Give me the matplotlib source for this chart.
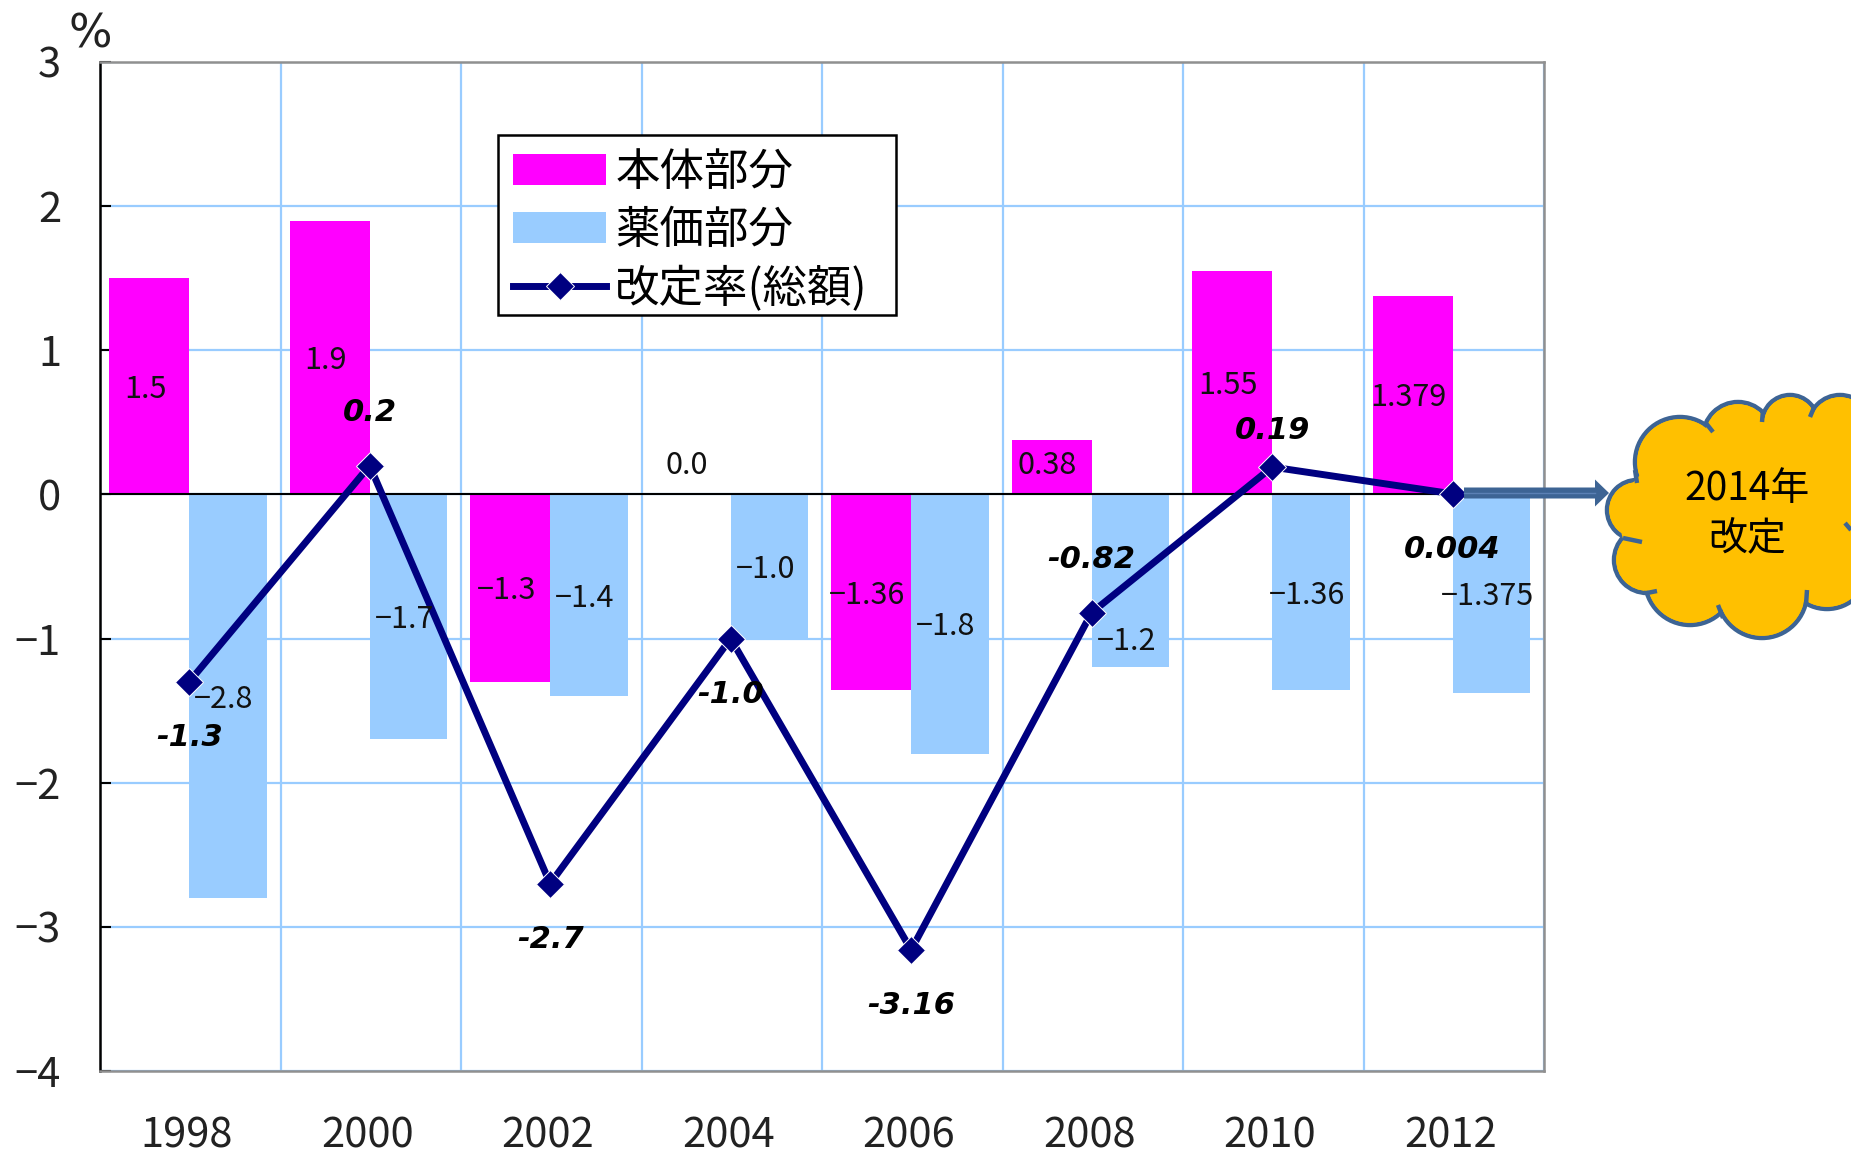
import matplotlib
matplotlib.use("Agg")
import matplotlib.pyplot as plt
from matplotlib.patches import Circle, Rectangle
import numpy as np

plt.rcParams['font.family'] = ['Noto Sans CJK JP', 'DejaVu Sans']

# DATA
years = ['1998', '2000', '2002', '2004', '2006', '2008', '2010', '2012']
honbody = [1.5, 1.9, -1.3, 0.0, -1.36, 0.38, 1.55, 1.379]
honbody_labels = ['1.5', '1.9', '-1.3', '0.0', '-1.36', '0.38', '1.55', '1.379']
drug = [-2.8, -1.7, -1.4, -1.0, -1.8, -1.2, -1.36, -1.375]
drug_labels = ['-2.8', '-1.7', '-1.4', '-1.0', '-1.8', '-1.2', '-1.36', '-1.375']
total = [-1.3, 0.2, -2.7, -1.0, -3.16, -0.82, 0.19, 0.004]
total_labels = ['-1.3', '0.2', '-2.7', '-1.0', '-3.16', '-0.82', '0.19', '0.004']
total_above = [False, True, False, False, False, True, True, False]
y_ticks = [-4, -3, -2, -1, 0, 1, 2, 3]

W, H = 1851, 1153
NAVY = '#000080'
GRID = '#99ccff'
MAGENTA = '#ff00ff'
CLOUD_EDGE = '#3d6494'

figure = plt.figure(figsize=(W / 100, H / 100), dpi=100)
ax = figure.add_axes([100 / W, 1 - 1071 / H, 1444 / W, 1009 / H])

x = np.arange(len(years)) + 0.494
bar_w = 0.43
bar_w_m = 0.442

b1 = ax.bar(x - bar_w_m / 2, honbody, bar_w_m, color=MAGENTA, zorder=2, label='本体部分')
b2 = ax.bar(x + bar_w / 2, drug, bar_w, color=GRID, zorder=2, label='薬価部分')
ax.axhline(0, color='black', lw=1.5, zorder=3)
l1, = ax.plot(x, total, color=NAVY, lw=5, marker='D', ms=14.5, mec='white', mew=0.7, zorder=4,
              label='改定率(総額)')

ax.set_xlim(0, len(years))
ax.set_ylim(-4, 3)
ax.set_xticks(x - 0.012, labels=years)
ax.set_yticks(y_ticks, labels=[str(v).replace('-', '−') for v in y_ticks])
ax.set_xticks(np.arange(len(years) + 1), minor=True)
ax.grid(True, which='minor', axis='x', color=GRID, lw=1.6, zorder=0)
ax.grid(True, which='major', axis='y', color=GRID, lw=1.6, zorder=0)
ax.tick_params(axis='x', which='both', length=0)
ax.tick_params(axis='x', which='major', labelsize=30, pad=32, labelcolor='#222222')
ax.tick_params(axis='y', direction='in', length=8, width=1.5, labelsize=30, pad=28, labelcolor='#222222')
ax.spines['left'].set_linewidth(1.8)
for side in ['top', 'right', 'bottom']:
    ax.spines[side].set_color('#909090')
    ax.spines[side].set_linewidth(1.8)

# value labels
label_off = (-3, -2)
for xi, v, s in zip(x - bar_w_m / 2, honbody, honbody_labels):
    ypos = v / 2 if v != 0 else 0.22
    if s == '0.38':
        ypos = 0.22
    ax.annotate(s.replace('-', '−'), (xi, ypos), xytext=label_off, textcoords='offset points',
                ha='center', va='center', fontsize=22, color='#111111', zorder=5)
for xi, v, s in zip(x + bar_w / 2, drug, drug_labels):
    ypos = v / 2
    if s == '-1.2':
        ypos = -1.0  # sits under the marker in the reference
    ax.annotate(s.replace('-', '−'), (xi, ypos), xytext=label_off, textcoords='offset points',
                ha='center', va='center', fontsize=22, color='#111111', zorder=5)
for xi, v, s, above in zip(x, total, total_labels, total_above):
    off = 38 if above else -40
    if s == '0.19':
        off = 26
    ax.annotate(s, (xi, v), xytext=(0, off), textcoords='offset points', ha='center', va='center',
                fontsize=22, fontweight='bold', fontstyle='italic', family='DejaVu Sans', color='black', zorder=6)

leg = ax.legend(handles=[b1, b2, l1], loc='upper left',
                bbox_to_anchor=((513 - 100) / 1444, 1 - (149 - 62) / 1009),
                fontsize=32, frameon=False, borderaxespad=0, borderpad=0, labelspacing=0.28,
                handlelength=2.1, handletextpad=0.2)
leg.set_zorder(7)
ax.add_patch(Rectangle((498 / W, 1 - 315 / H), 398 / W, 180 / H, transform=figure.transFigure,
                       facecolor='white', edgecolor='black', lw=1.8, zorder=6.5))

# overlay in pixel coords: percent sign, arrow, cloud
over = figure.add_axes([0, 0, 1, 1], facecolor='none')
over.set_xlim(0, W)
over.set_ylim(H, 0)
over.axis('off')

over.text(90, 35, '%', ha='center', va='center', fontsize=33, color='#222222', family='DejaVu Sans')

over.arrow(1464, 493, 145, 0, width=11, head_width=27, head_length=14, length_includes_head=True,
           color=CLOUD_EDGE, lw=0, zorder=7)
over.plot([1464, 1595], [493, 493], color='#5b80b4', lw=1, zorder=7.5)

lobes = [(1680, 462, 45), (1738, 437, 35), (1790, 423, 28), (1840, 427, 32), (1637, 510, 30),
         (1647, 560, 33), (1690, 580, 45), (1762, 593, 45), (1827, 567, 42), (1880, 493, 55)]
fill_lobes = [(1745, 510, 85), (1830, 500, 70), (1680, 520, 60)]
for cx, cy, r in lobes:
    over.add_patch(Circle((cx, cy), r, facecolor='#ffc000', edgecolor=CLOUD_EDGE, lw=3.2, zorder=8))
for cx, cy, r in lobes:
    over.add_patch(Circle((cx, cy), r - 2.2, facecolor='#ffc000', edgecolor='none', zorder=9))
for cx, cy, r in fill_lobes:
    over.add_patch(Circle((cx, cy), r, facecolor='#ffc000', edgecolor='none', zorder=9))
hooks = [((1713, 432), (1705, 422)), ((1762, 422), (1763, 410)), ((1810, 417), (1815, 405)),
         ((1637, 483), (1635, 470)), ((1642, 542), (1623, 538)), ((1657, 591), (1647, 593)),
         ((1718, 605), (1723, 618)), ((1807, 590), (1806, 605)), ((1845, 523), (1851, 530))]
for (x0, y0), (x1, y1) in hooks:
    over.plot([x0, x1], [y0, y1], color=CLOUD_EDGE, lw=3.2, solid_capstyle='butt', zorder=9.5)
over.set_xlim(0, W)
over.set_ylim(H, 0)
over.text(1747, 489, '2014年', ha='center', va='center', fontsize=28, color='black', family='Noto Sans CJK JP', zorder=10)
over.text(1747, 539, '改定', ha='center', va='center', fontsize=28, color='black', family='Noto Sans CJK JP', zorder=10)

figure.savefig('out.png', dpi=100)
